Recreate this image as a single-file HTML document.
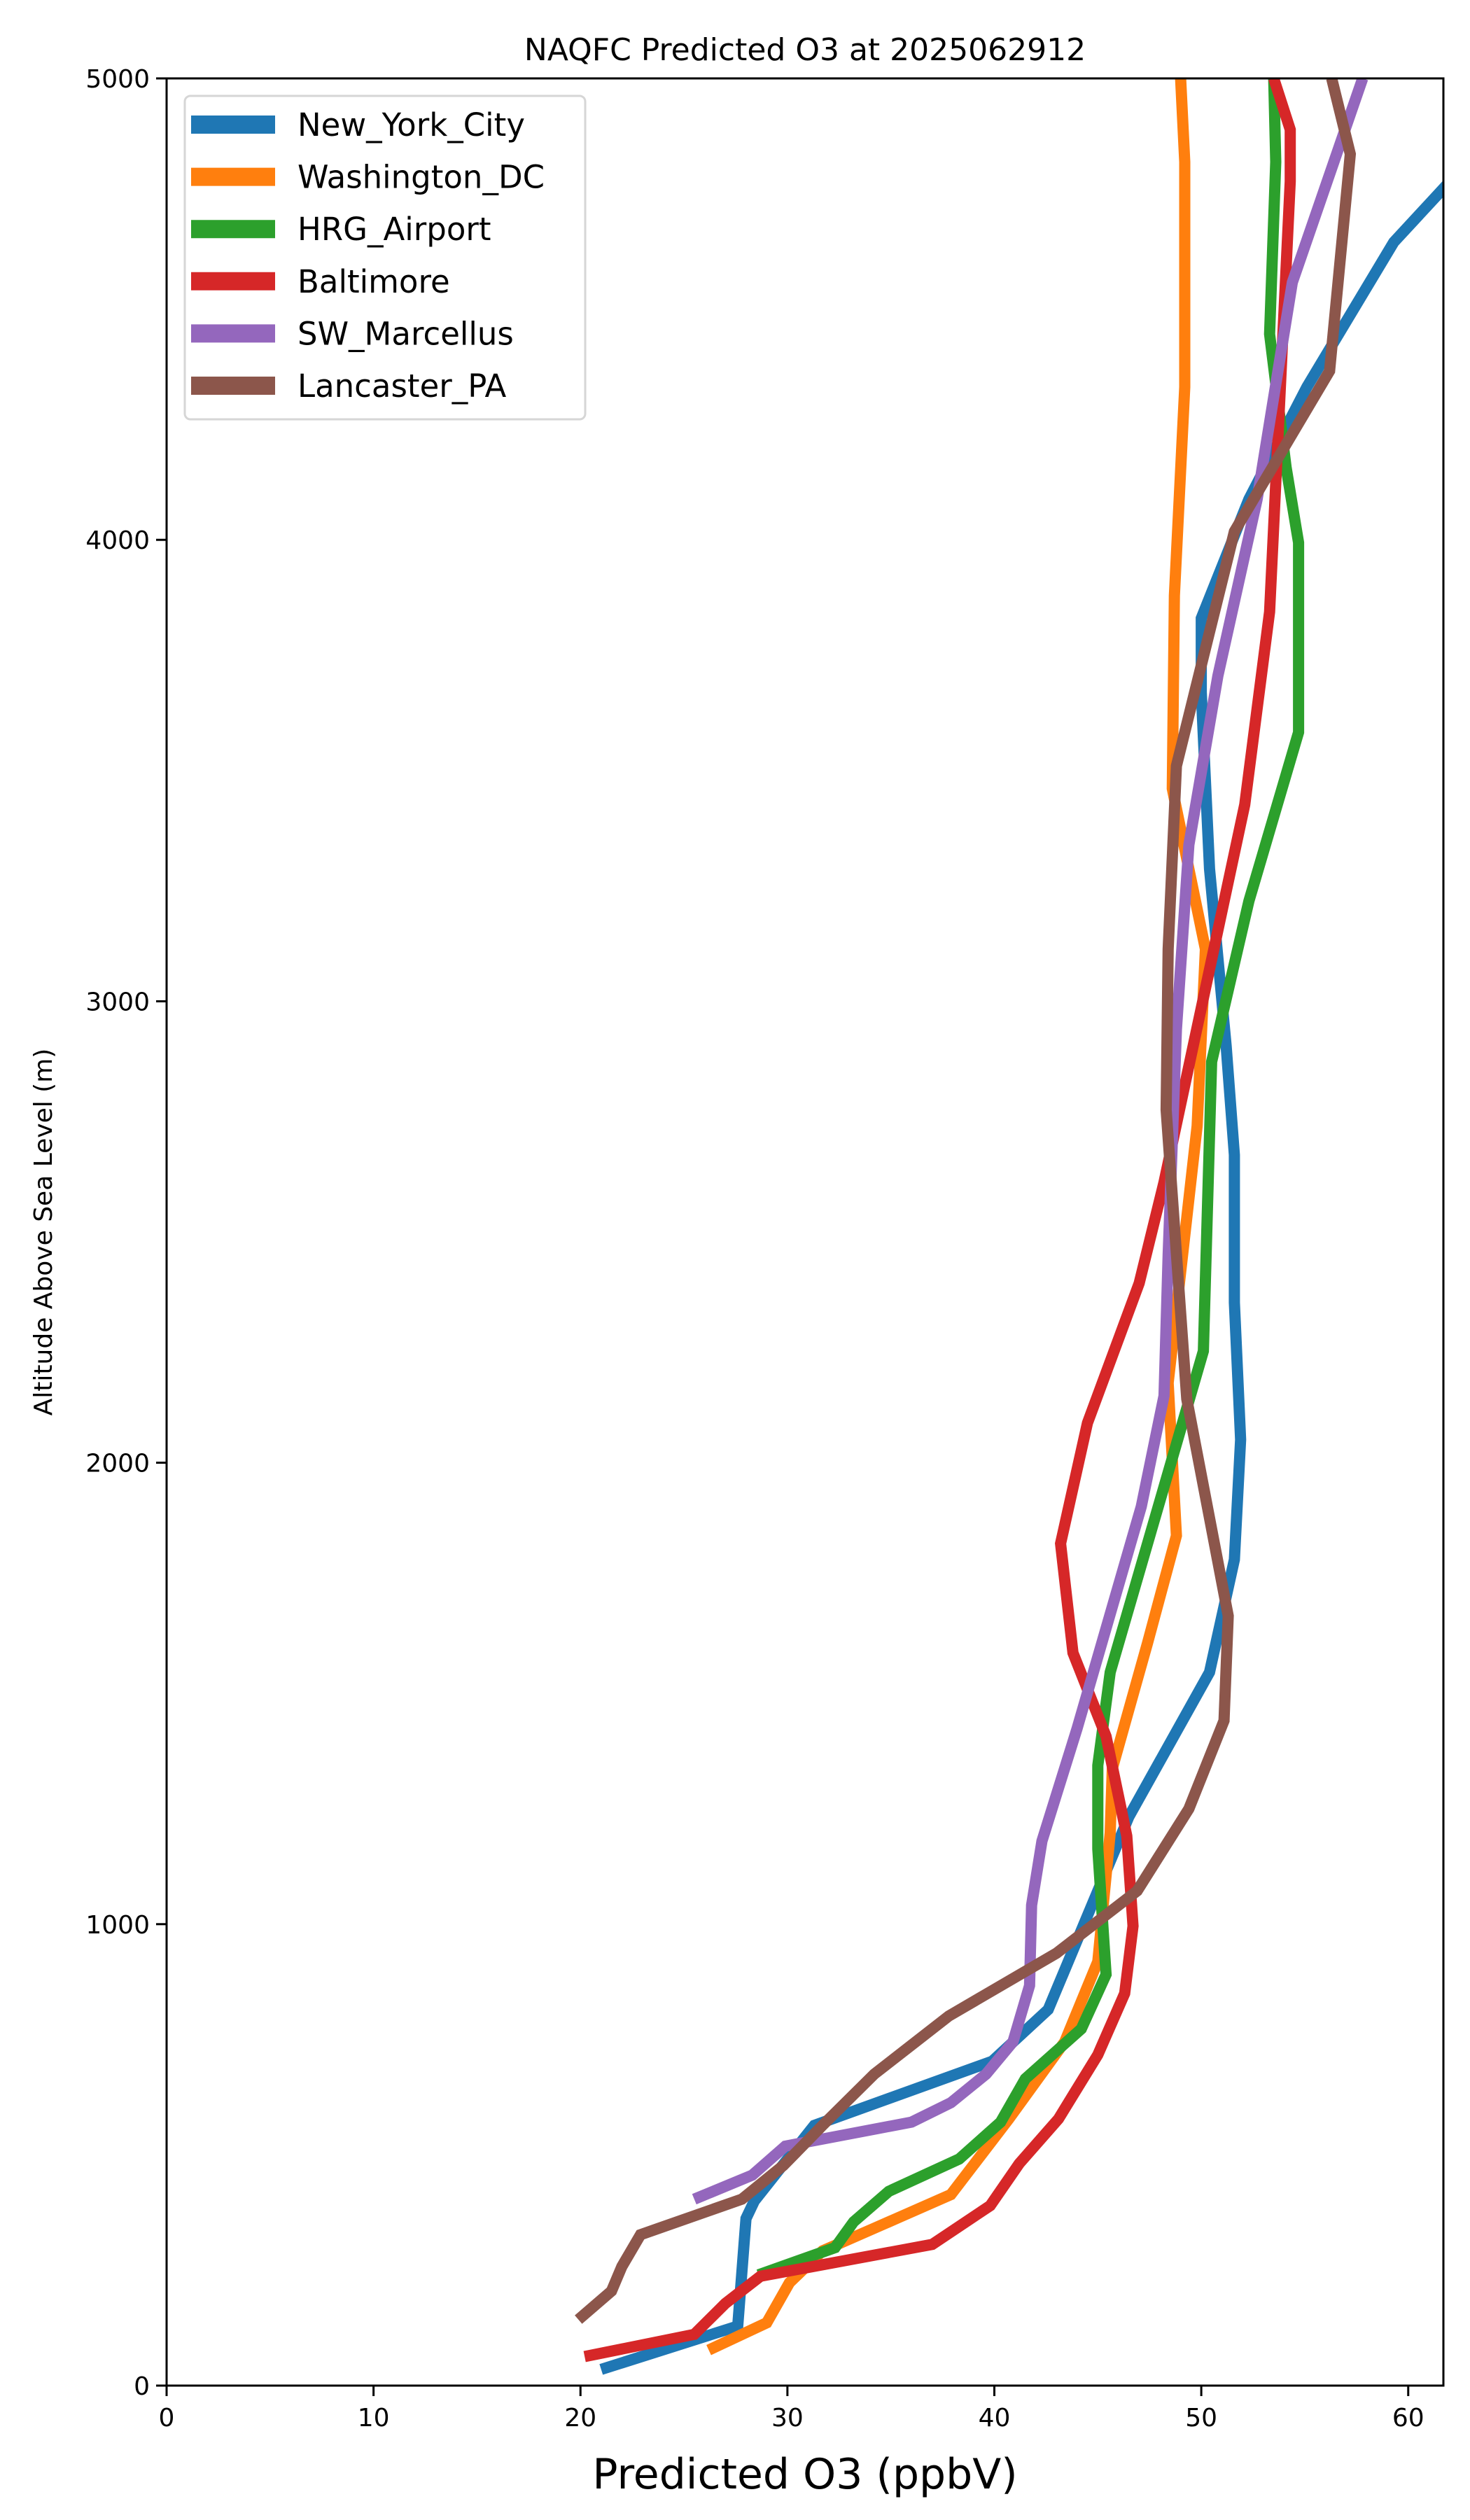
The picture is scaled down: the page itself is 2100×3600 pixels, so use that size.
<!DOCTYPE html>
<html><head><meta charset="utf-8"><style>
html,body{margin:0;padding:0;background:#fff}
svg{display:block;font-family:"DejaVu Sans","Liberation Sans",sans-serif}
</style></head><body>
<svg id="chart" width="2100" height="3600" xmlns="http://www.w3.org/2000/svg">
<defs><clipPath id="plotclip"><rect x="238" y="112" width="1824" height="3296"/></clipPath></defs>
<rect x="0" y="0" width="2100" height="3600" fill="#fff"/>
<text x="1150" y="86" font-size="44" text-anchor="middle">NAQFC Predicted O3 at 2025062912</text>
<g id="lines" clip-path="url(#plotclip)"></g>
<rect x="238" y="112" width="1824" height="3296" fill="none" stroke="#000" stroke-width="3"/>
<g id="xticks"></g>
<g id="yticks"></g>
<text x="1150" y="3555" font-size="60" text-anchor="middle">Predicted O3 (ppbV)</text>
<text x="0" y="0" font-size="36" text-anchor="middle" transform="translate(74,1760) rotate(-90)">Altitude Above Sea Level (m)</text>
<g id="legend">
<rect x="264" y="137" width="572" height="462" rx="8" fill="#fff" fill-opacity="0.8" stroke="#d6d6d6" stroke-width="3"/>
</g>
</svg>
<script>
const seriesNames=["New_York_City","Washington_DC","HRG_Airport","Baltimore","SW_Marcellus","Lancaster_PA"];
const seriesColors=["#1f77b4","#ff7f0e","#2ca02c","#d62728","#9467bd","#8c564b"];
const nycO3=[21,27.6,28.0,28.4,31.3,39.9,42.6,46.5,50.4,51.6,51.9,51.6,51.6,51.2,50.4,50.0,50.0,52.3,55.1,59.3,62.5];
const nycAlt=[35,129,362,400,564,703,815,1233,1546,1790,2050,2347,2667,2904,3287,3670,3830,4088,4331,4645,4800];
const dcO3=[26.2,29.0,30.1,31.7,34.4,37.9,40.7,43.4,45.0,45.6,45.7,47.4,48.8,48.4,49.8,50.2,48.6,48.7,49.2,49.2,49.0];
const dcAlt=[77,136,223,292,345,414,578,745,919,1198,1337,1609,1842,2173,2730,3113,3461,3879,4331,4819,5000];
const hrgO3=[28.6,32.3,33.2,34.9,38.3,40.3,41.5,44.2,45.4,45.0,45.0,45.6,50.1,50.5,52.3,54.7,54.7,54.1,53.3,53.6,53.5];
const hrgAlt=[240,299,355,421,491,571,665,773,891,1163,1344,1546,2242,2869,3217,3583,3994,4157,4446,4819,5000];
const balO3=[20.2,25.5,27.0,28.7,37.0,39.8,41.2,43.1,45.0,46.3,46.7,46.4,45.4,43.8,43.2,44.5,47.0,48.2,52.1,53.3,54.3,54.3,53.5];
const balAlt=[63,111,178,237,306,390,481,578,717,850,996,1191,1407,1588,1825,2086,2389,2608,3426,3844,4777,4889,5000];
const swmO3=[25.5,28.3,29.9,36.0,37.9,39.6,40.9,41.7,41.8,42.3,44.0,47.1,48.2,48.4,48.8,49.4,50.8,52.7,54.4,57.8];
const swmAlt=[404,456,519,571,613,675,745,867,1041,1180,1424,1905,2145,2451,2939,3339,3705,4088,4558,5000];
const lanO3=[19.9,21.5,22.0,22.9,27.8,29.8,31.7,34.2,37.8,43.0,46.9,49.4,51.1,51.3,49.3,48.3,48.4,48.8,51.6,56.2,57.2,56.3];
const lanAlt=[143,205,258,327,404,477,564,675,801,937,1072,1250,1441,1668,2138,2765,3113,3510,4018,4366,4836,5000];
const xTicks=[0,10,20,30,40,50,60];
const yTicks=[0,1000,2000,3000,4000,5000];

const NS="http://www.w3.org/2000/svg";
const L=238,R=2062,T=112,B=3408,XMAX=61.7,YMAX=5000;
const xs=v=>L+v/XMAX*(R-L);
const ys=v=>B-v/YMAX*(B-T);
const allO3=[nycO3,dcO3,hrgO3,balO3,swmO3,lanO3];
const allAlt=[nycAlt,dcAlt,hrgAlt,balAlt,swmAlt,lanAlt];
const lines=document.getElementById('lines');
allO3.forEach((o,i)=>{
  const p=document.createElementNS(NS,'polyline');
  p.setAttribute('points',o.map((v,j)=>xs(v).toFixed(1)+','+ys(allAlt[i][j]).toFixed(1)).join(' '));
  p.setAttribute('fill','none');p.setAttribute('stroke',seriesColors[i]);
  p.setAttribute('stroke-width','16');p.setAttribute('stroke-linejoin','miter');
  
  
  lines.appendChild(p);
});
const xg=document.getElementById('xticks');
xTicks.forEach(t=>{
  const l=document.createElementNS(NS,'line');
  l.setAttribute('x1',xs(t));l.setAttribute('x2',xs(t));l.setAttribute('y1',B);l.setAttribute('y2',B+15);
  l.setAttribute('stroke','#000');l.setAttribute('stroke-width','3');
  
  
  xg.appendChild(l);
  const tx=document.createElementNS(NS,'text');
  tx.setAttribute('x',xs(t));tx.setAttribute('y',B+58);tx.setAttribute('font-size','36');tx.setAttribute('text-anchor','middle');
  tx.textContent=t;
  
  
  xg.appendChild(tx);
});
const yg=document.getElementById('yticks');
yTicks.forEach(t=>{
  const l=document.createElementNS(NS,'line');
  l.setAttribute('x1',L-15);l.setAttribute('x2',L);l.setAttribute('y1',ys(t));l.setAttribute('y2',ys(t));
  l.setAttribute('stroke','#000');l.setAttribute('stroke-width','3');
  
  
  yg.appendChild(l);
  const tx=document.createElementNS(NS,'text');
  tx.setAttribute('x',L-24);tx.setAttribute('y',ys(t)+13);tx.setAttribute('font-size','36');tx.setAttribute('text-anchor','end');
  tx.textContent=t;
  
  
  yg.appendChild(tx);
});
const lg=document.getElementById('legend');
seriesNames.forEach((n,i)=>{
  const y=178+i*74.6;
  const l=document.createElementNS(NS,'line');
  l.setAttribute('x1',273);l.setAttribute('x2',393);l.setAttribute('y1',y);l.setAttribute('y2',y);
  l.setAttribute('stroke',seriesColors[i]);l.setAttribute('stroke-width','26');
  
  
  lg.appendChild(l);
  const tx=document.createElementNS(NS,'text');
  tx.setAttribute('x',425);tx.setAttribute('y',y+16);tx.setAttribute('font-size','45');
  tx.textContent=n;
  
  
  lg.appendChild(tx);
});
</script>
</body></html>
